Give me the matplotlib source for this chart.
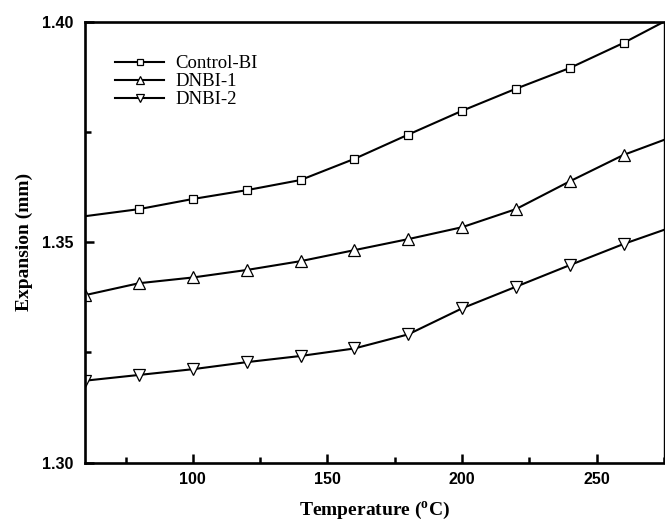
import matplotlib.pyplot as plt
from matplotlib.ticker import MultipleLocator, FormatStrFormatter

# temperatures (deg C), plus the two axis edges
temperature = [60, 80, 100, 120, 140, 160, 180, 200, 220, 240, 260, 275]

control_bi = [1.3559, 1.3575, 1.3598, 1.3618, 1.3641, 1.3689,
              1.3744, 1.3798, 1.3848, 1.3895, 1.3952, 1.4000]
dnbi_1 = [1.3380, 1.3407, 1.3420, 1.3437, 1.3457, 1.3482,
          1.3507, 1.3534, 1.3575, 1.3638, 1.3698, 1.3732]
dnbi_2 = [1.3186, 1.3199, 1.3212, 1.3228, 1.3242, 1.3259,
          1.3291, 1.3350, 1.3399, 1.3448, 1.3496, 1.3528]

labels = ['Control-BI', 'DNBI-1', 'DNBI-2']

serif = 'Liberation Serif'
sans = 'Liberation Sans'

fig = plt.figure(figsize=(6.65, 5.22), dpi=100)
ax = fig.add_axes([0.128, 0.1136, 0.8705, 0.8448])

# markers on the 20 degree points; the edge point at 60 shows half a marker for the DNBI curves
ax.plot(temperature, control_bi, color='black', lw=1.5, marker='s', ms=6,
        mfc='white', mec='black', mew=0.9, markevery=slice(1, 11), label=labels[0])
ax.plot(temperature, dnbi_1, color='black', lw=1.5, marker='^', ms=8,
        mfc='white', mec='black', mew=0.9, markevery=slice(0, 11), label=labels[1])
ax.plot(temperature, dnbi_2, color='black', lw=1.5, marker='v', ms=8,
        mfc='white', mec='black', mew=0.9, markevery=slice(0, 11), label=labels[2])

ax.set_xlim(60, 275)
ax.set_ylim(1.30, 1.40)

ax.xaxis.set_major_locator(MultipleLocator(50))
ax.xaxis.set_minor_locator(MultipleLocator(25))
ax.yaxis.set_major_locator(MultipleLocator(0.05))
ax.yaxis.set_minor_locator(MultipleLocator(0.025))
ax.yaxis.set_major_formatter(FormatStrFormatter('%.2f'))

ax.tick_params(which='both', direction='in', top=False, right=False, width=1.8)
ax.tick_params(which='major', length=6.5)
ax.tick_params(which='minor', length=4)
ax.tick_params(axis='x', pad=7)
ax.tick_params(axis='y', pad=8.5)
for lab in ax.get_xticklabels() + ax.get_yticklabels():
    lab.set_fontfamily(sans)
    lab.set_fontweight('bold')
    lab.set_fontsize(11.5)

for side in ['left', 'bottom', 'top']:
    ax.spines[side].set_linewidth(1.9)
ax.spines['right'].set_linewidth(1.0)

ax.set_xlabel('Temperature ($\\mathregular{^o}$C)', fontfamily=serif, fontweight='bold',
              fontsize=14, labelpad=9)
ax.set_ylabel('Expansion (mm)', fontfamily=serif, fontweight='bold', fontsize=14, labelpad=6)

leg = ax.legend(loc='upper left', bbox_to_anchor=(0.052, 0.924), frameon=False,
                borderpad=0, borderaxespad=0, handlelength=2.6, handletextpad=0.6,
                labelspacing=0.05, markerscale=0.8, prop={'family': serif, 'size': 13.5})

fig.savefig('out.png', dpi=100)
